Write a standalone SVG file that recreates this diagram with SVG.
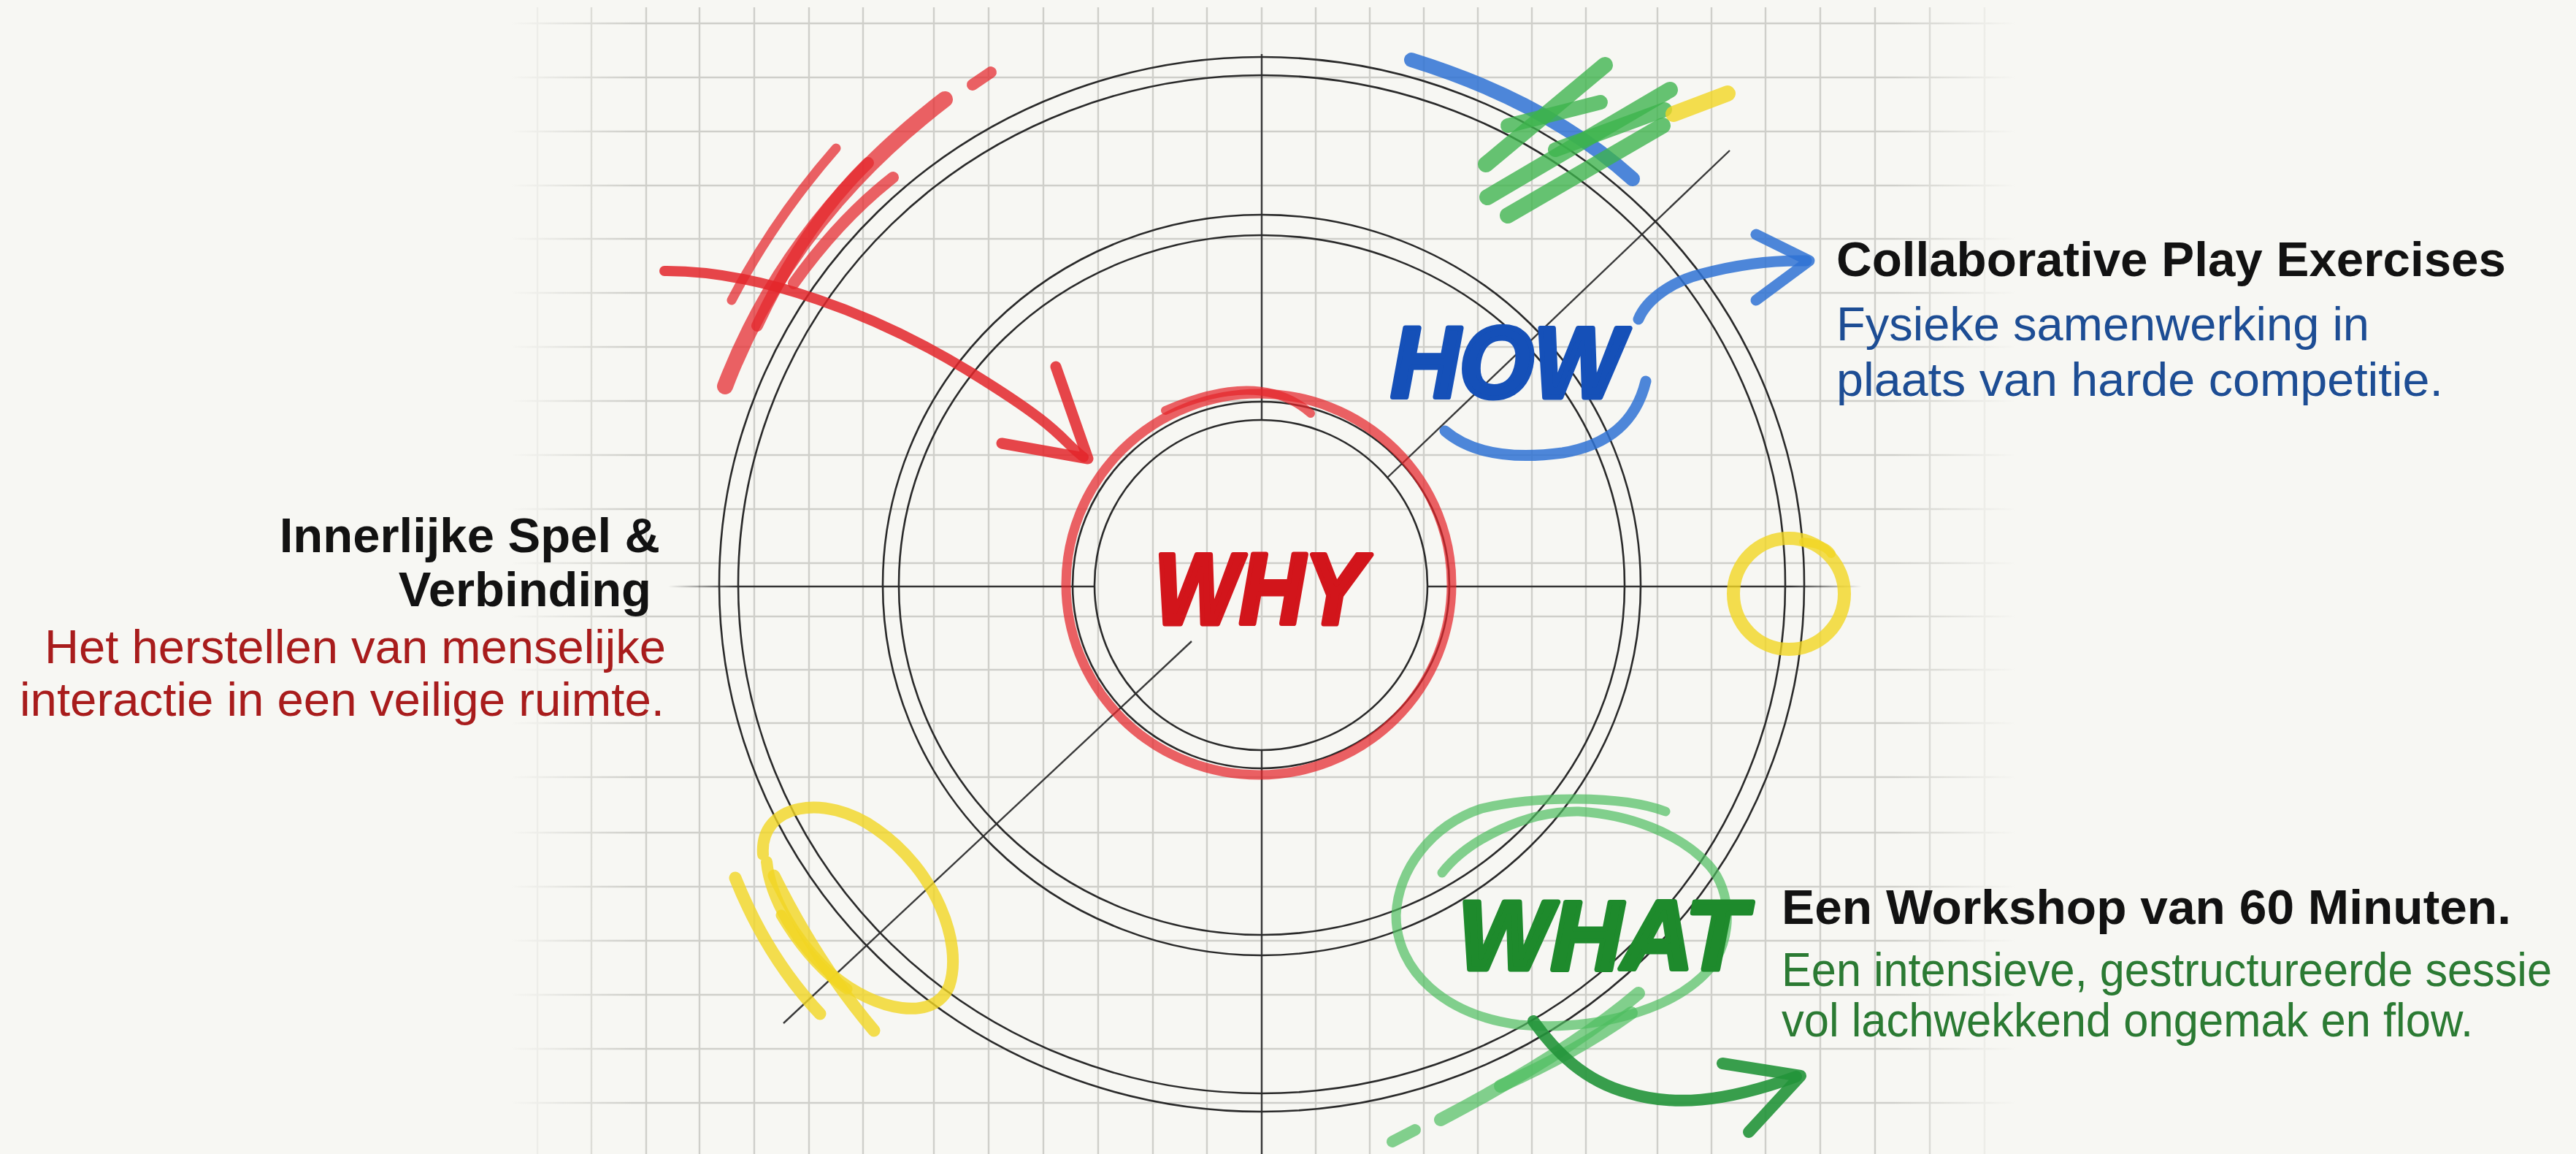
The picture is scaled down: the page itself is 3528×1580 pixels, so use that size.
<svg xmlns="http://www.w3.org/2000/svg" width="3528" height="1580" viewBox="0 0 3528 1580">
<defs>
<linearGradient id="fadeX" gradientUnits="userSpaceOnUse" x1="700" y1="0" x2="2760" y2="0">
<stop offset="0" stop-color="#fff" stop-opacity="0"/>
<stop offset="0.08" stop-color="#fff" stop-opacity="1"/>
<stop offset="0.92" stop-color="#fff" stop-opacity="1"/>
<stop offset="1" stop-color="#fff" stop-opacity="0"/>
</linearGradient>
<mask id="gridMask" maskUnits="userSpaceOnUse" x="0" y="0" width="3528" height="1580">
<rect x="0" y="0" width="3528" height="1580" fill="url(#fadeX)"/>
</mask>
<linearGradient id="fadeH" gradientUnits="userSpaceOnUse" x1="915" y1="0" x2="2550" y2="0">
<stop offset="0" stop-color="#333" stop-opacity="0"/>
<stop offset="0.06" stop-color="#333" stop-opacity="1"/>
<stop offset="0.94" stop-color="#333" stop-opacity="1"/>
<stop offset="1" stop-color="#333" stop-opacity="0"/>
</linearGradient>
</defs>
<style>
.grid line{stroke:#cfcfca;stroke-width:2.4}
.ring{fill:none;stroke:#2a2a2a;stroke-width:2.6}
.axis{stroke:#3a3a3a;stroke-width:2.4;fill:none}
.mk{fill:none;stroke-linecap:round;stroke-linejoin:round}
.red{stroke:#e4262b;opacity:0.72}
.redA{stroke:#e3262a;opacity:0.85}
.blue{stroke:#2f72d3;opacity:0.85}
.green{stroke:#3cb34c;opacity:0.78}
.lgreen{stroke:#4fbd5f;opacity:0.7}
.dgreen{stroke:#22943a;opacity:0.9}
.yel{stroke:#f1d623;opacity:0.8}
.hand{font-family:"Liberation Sans",Arial,sans-serif;font-weight:bold;font-style:italic;stroke-linejoin:round;stroke-width:7}
.hd{font-family:"Liberation Sans",Arial,sans-serif;font-weight:bold;font-size:67px;fill:#121212}
.bd{font-family:"Liberation Sans",Arial,sans-serif;font-size:65px}
</style>
<rect x="0" y="0" width="3528" height="1580" fill="#f7f7f3"/>
<g id="grid" class="grid" mask="url(#gridMask)">
<line x1="736" y1="10" x2="736" y2="1580"/><line x1="810" y1="10" x2="810" y2="1580"/><line x1="885" y1="10" x2="885" y2="1580"/><line x1="958" y1="10" x2="958" y2="1580"/><line x1="1033" y1="10" x2="1033" y2="1580"/><line x1="1108" y1="10" x2="1108" y2="1580"/><line x1="1182" y1="10" x2="1182" y2="1580"/><line x1="1279" y1="10" x2="1279" y2="1580"/><line x1="1354" y1="10" x2="1354" y2="1580"/><line x1="1429" y1="10" x2="1429" y2="1580"/><line x1="1504" y1="10" x2="1504" y2="1580"/><line x1="1579" y1="10" x2="1579" y2="1580"/><line x1="1653" y1="10" x2="1653" y2="1580"/><line x1="1728" y1="10" x2="1728" y2="1580"/><line x1="1802" y1="10" x2="1802" y2="1580"/><line x1="1876" y1="10" x2="1876" y2="1580"/><line x1="1950" y1="10" x2="1950" y2="1580"/><line x1="2024" y1="10" x2="2024" y2="1580"/><line x1="2098" y1="10" x2="2098" y2="1580"/><line x1="2172" y1="10" x2="2172" y2="1580"/><line x1="2270" y1="10" x2="2270" y2="1580"/><line x1="2344" y1="10" x2="2344" y2="1580"/><line x1="2418" y1="10" x2="2418" y2="1580"/><line x1="2493" y1="10" x2="2493" y2="1580"/><line x1="2568" y1="10" x2="2568" y2="1580"/><line x1="2643" y1="10" x2="2643" y2="1580"/><line x1="2718" y1="10" x2="2718" y2="1580"/>
<line x1="700" y1="32" x2="2760" y2="32"/><line x1="700" y1="106" x2="2760" y2="106"/><line x1="700" y1="180" x2="2760" y2="180"/><line x1="700" y1="254" x2="2760" y2="254"/><line x1="700" y1="327" x2="2760" y2="327"/><line x1="700" y1="401" x2="2760" y2="401"/><line x1="700" y1="475" x2="2760" y2="475"/><line x1="700" y1="549" x2="2760" y2="549"/><line x1="700" y1="623" x2="2760" y2="623"/><line x1="700" y1="697" x2="2760" y2="697"/><line x1="700" y1="771" x2="2760" y2="771"/><line x1="700" y1="844" x2="2760" y2="844"/><line x1="700" y1="917" x2="2760" y2="917"/><line x1="700" y1="990" x2="2760" y2="990"/><line x1="700" y1="1064" x2="2760" y2="1064"/><line x1="700" y1="1140" x2="2760" y2="1140"/><line x1="700" y1="1214" x2="2760" y2="1214"/><line x1="700" y1="1288" x2="2760" y2="1288"/><line x1="700" y1="1362" x2="2760" y2="1362"/><line x1="700" y1="1436" x2="2760" y2="1436"/><line x1="700" y1="1510" x2="2760" y2="1510"/>
</g>
<g id="axes">
<line x1="915" y1="803" x2="1499" y2="803" stroke="url(#fadeH)" stroke-width="2.6"/>
<line x1="1955" y1="803" x2="2550" y2="803" stroke="url(#fadeH)" stroke-width="2.6"/>
<line class="axis" x1="1728" y1="74" x2="1728" y2="575"/>
<line class="axis" x1="1728" y1="1027" x2="1728" y2="1580"/>
<line class="axis" x1="1073" y1="1401" x2="1632" y2="878" stroke-width="1.8"/>
<line class="axis" x1="1900" y1="654" x2="2369" y2="206" stroke-width="1.8"/>
</g>
<g id="rings">
<ellipse class="ring" cx="1728" cy="800" rx="743" ry="722"/>
<ellipse class="ring" cx="1728" cy="800" rx="717" ry="697"/>
<ellipse class="ring" cx="1728" cy="801" rx="519" ry="507"/>
<ellipse class="ring" cx="1728" cy="801" rx="497" ry="479"/>
<ellipse class="ring" cx="1727" cy="801" rx="258" ry="251"/>
<ellipse class="ring" cx="1727" cy="801" rx="228" ry="226"/>
</g>
<g id="scribbles">
<path class="mk red" stroke-width="16" d="M1332,116 L1357,99"/>
<path class="mk red" stroke-width="22" d="M993,529 Q1080,300 1294,136"/>
<path class="mk red" stroke-width="13" d="M1002,411 Q1060,300 1145,203"/>
<path class="mk red" stroke-width="16" d="M1037,446 Q1100,310 1189,223"/>
<path class="mk red" stroke-width="16" d="M1087,388 Q1150,300 1223,243"/>
<path class="mk red" stroke-width="12" d="M1596,562 Q1726,505 1795,566"/>
<ellipse class="mk red" stroke-width="13" cx="1724" cy="800" rx="264" ry="261"/>
<path class="mk blue" stroke-width="20" d="M1933,82 Q2120,140 2236,245"/>
<path class="mk green" stroke-width="22" d="M2035,225 L2198,89"/>
<path class="mk green" stroke-width="22" d="M2037,270 L2287,123"/>
<path class="mk green" stroke-width="22" d="M2065,295 L2277,172"/>
<path class="mk green" stroke-width="20" d="M2065,172 L2192,140"/>
<path class="mk green" stroke-width="20" d="M2130,205 L2280,150"/>
<path class="mk yel" stroke-width="22" d="M2292,156 L2366,128"/>
<path class="mk blue" stroke-width="15" d="M1979,590 C2020,625 2080,628 2140,620 C2200,610 2240,580 2254,522"/>
<circle class="mk yel" stroke-width="18" cx="2450" cy="813" r="76"/>
<path class="mk yel" stroke-width="12" d="M2470,742 Q2500,745 2508,758"/>
<path class="mk yel" stroke-width="16" d="M1045,1170 C1040,1100 1130,1085 1200,1135 C1280,1190 1320,1290 1300,1350 C1280,1400 1200,1385 1140,1335 C1090,1290 1055,1230 1050,1180"/>
<path class="mk yel" stroke-width="17" d="M1007,1202 Q1050,1310 1123,1388"/>
<path class="mk yel" stroke-width="17" d="M1060,1199 Q1120,1320 1197,1411"/>
<path class="mk yel" stroke-width="15" d="M1070,1253 Q1110,1320 1160,1354"/>
<path class="mk lgreen" stroke-width="13" d="M2281,1111 C2220,1088 2100,1090 2029,1107 C1960,1130 1915,1190 1912,1253 C1912,1330 1980,1390 2080,1403 C2180,1412 2290,1385 2341,1327 C2375,1285 2372,1220 2341,1185 C2300,1140 2230,1115 2162,1111 C2090,1110 2010,1150 1975,1195"/>
<path class="mk lgreen" stroke-width="16" d="M1907,1563 L1938,1547"/>
<path class="mk lgreen" stroke-width="18" d="M1973,1533 Q2150,1440 2244,1360"/>
<path class="mk lgreen" stroke-width="18" d="M2055,1487 Q2160,1440 2234,1387"/>
</g>
<g id="connectors">
<path class="mk redA" stroke-width="14" d="M910,371 C1040,370 1200,430 1330,510 S1450,600 1484,626"/>
<path class="mk redA" stroke-width="15" d="M1446,502 L1490,628 L1372,607"/>
<path class="mk blue" stroke-width="15" d="M2244,437 C2255,410 2290,385 2331,375 C2380,362 2430,356 2474,357"/>
<path class="mk blue" stroke-width="15" d="M2405,321 L2478,357 L2405,411"/>
<path class="mk dgreen" stroke-width="16" d="M2100,1398 C2130,1440 2170,1480 2229,1496 C2290,1515 2360,1510 2460,1474"/>
<path class="mk dgreen" stroke-width="16" d="M2359,1456 L2466,1473 L2395,1550"/>
</g>
<g id="why">
<text class="hand" x="1581" y="854" font-size="138" fill="#d2151b" stroke="#d2151b" textLength="288" lengthAdjust="spacingAndGlyphs">WHY</text>
<text class="hd" x="904" y="756" text-anchor="end">Innerlijke Spel &amp;</text>
<text class="hd" x="892" y="830" text-anchor="end">Verbinding</text>
<text class="bd" x="61" y="908" fill="#a81c1c" textLength="851" lengthAdjust="spacingAndGlyphs">Het herstellen van menselijke</text>
<text class="bd" x="27" y="980" fill="#a81c1c" textLength="883" lengthAdjust="spacingAndGlyphs">interactie in een veilige ruimte.</text>
</g>
<g id="how">
<text class="hand" x="1905" y="544" font-size="137" fill="#1550b8" stroke="#1550b8" textLength="318" lengthAdjust="spacingAndGlyphs">HOW</text>
<text class="hd" x="2515" y="378" textLength="917" lengthAdjust="spacingAndGlyphs">Collaborative Play Exercises</text>
<text class="bd" x="2515" y="466" fill="#1d4d94" textLength="730" lengthAdjust="spacingAndGlyphs">Fysieke samenwerking in</text>
<text class="bd" x="2515" y="542" fill="#1d4d94" textLength="831" lengthAdjust="spacingAndGlyphs">plaats van harde competitie.</text>
</g>
<g id="what">
<text class="hand" x="1997" y="1327" font-size="133" fill="#1e8a2c" stroke="#1e8a2c" textLength="394" lengthAdjust="spacingAndGlyphs">WHAT</text>
<text class="hd" x="2440" y="1265" textLength="999" lengthAdjust="spacingAndGlyphs">Een Workshop van 60 Minuten.</text>
<text class="bd" x="2440" y="1350" font-size="59" fill="#2b7a33" textLength="1055" lengthAdjust="spacingAndGlyphs">Een intensieve, gestructureerde sessie</text>
<text class="bd" x="2440" y="1419" font-size="61" fill="#2b7a33" textLength="947" lengthAdjust="spacingAndGlyphs">vol lachwekkend ongemak en flow.</text>
</g>
</svg>
